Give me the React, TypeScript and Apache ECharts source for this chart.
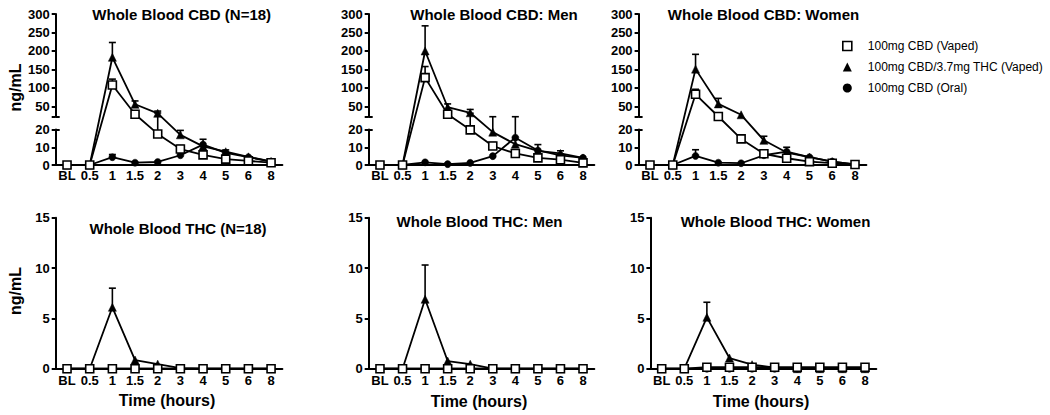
import React, { useEffect, useRef } from 'react';
import * as echarts from 'echarts';

// ---------- data ----------
const categories = ['BL', '0.5', '1', '1.5', '2', '3', '4', '5', '6', '8'];
const seriesNames = ['100mg CBD (Vaped)', '100mg CBD/3.7mg THC (Vaped)', '100mg CBD (Oral)'];
const panelTitles = [
  'Whole Blood CBD (N=18)', 'Whole Blood CBD: Men', 'Whole Blood CBD: Women',
  'Whole Blood THC (N=18)', 'Whole Blood THC: Men', 'Whole Blood THC: Women',
];
const yAxisName = 'ng/mL';
const xAxisName = 'Time (hours)';

// CBD, all participants
const cbdAllVaped = [0, 0, 108, 29, 17.5, 9, 5.7, 3.3, 2.3, 1.3];
const cbdAllVapedErr = [0, 0, 16, 0, 15, 2, 0, 0, 0, 0];
const cbdAllMixVaped = [0, 0, 183, 56, 31.6, 17, 10.5, 7.5, 4.6, 2];
const cbdAllMixVapedErr = [0, 0, 40, 9, 6, 2.5, 0, 1, 0, 0];
const cbdAllOral = [0, 0, 4.4, 1.3, 1.7, 5.5, 11.5, 6.8, 4.4, 1.9];
const cbdAllOralErr = [0, 0, 1.5, 0, 0, 0, 3, 0, 0, 0];
// CBD, men
const cbdMenVaped = [0, 0, 128, 29, 19.8, 10.7, 6.5, 4, 3, 1.2];
const cbdMenVapedErr = [0, 0, 30, 0, 12, 2, 0, 0, 0, 0];
const cbdMenMixVaped = [0, 0, 200, 48, 33, 18.5, 11.7, 8, 6.5, 4];
const cbdMenMixVapedErr = [0, 0, 68, 9, 9, 3.9, 0, 3.5, 1.5, 0];
const cbdMenOral = [0, 0, 1.5, 0.5, 1.2, 5, 15.4, 8.2, 5.4, 4];
const cbdMenOralErr = [0, 0, 0, 0, 0, 0, 7, 0, 0, 0];
// CBD, women
const cbdWomenVaped = [0, 0, 83, 23, 14.7, 6.3, 3.8, 1.9, 1, 0.3];
const cbdWomenVapedErr = [0, 0, 13.5, 0, 0, 0, 0, 0, 0, 0];
const cbdWomenMixVaped = [0, 0, 151, 57, 27.6, 13.9, 7, 4.4, 1.9, 0.4];
const cbdWomenMixVapedErr = [0, 0, 40, 15, 0, 2.3, 0, 0, 0, 0];
const cbdWomenOral = [0, 0, 5.1, 1.3, 1, 5.5, 7.5, 4.4, 1.9, 0.4];
const cbdWomenOralErr = [0, 0, 3.5, 0, 0, 0, 2.5, 0, 0, 0];
// THC, all participants
const thcAllVaped = [0, 0, 0, 0, 0, 0, 0, 0, 0, 0];
const thcAllMixVaped = [0, 0, 6.1, 0.86, 0.45, 0.05, 0, 0, 0, 0];
const thcAllMixVapedErr = [0, 0, 1.9, 0, 0, 0, 0, 0, 0, 0];
const thcAllOral = [0, 0, 0, 0, 0, 0, 0, 0, 0, 0];
// THC, men
const thcMenVaped = [0, 0, 0, 0, 0, 0, 0, 0, 0, 0];
const thcMenMixVaped = [0, 0, 6.9, 0.76, 0.45, 0, 0, 0, 0, 0];
const thcMenMixVapedErr = [0, 0, 3.4, 0, 0, 0, 0, 0, 0, 0];
const thcMenOral = [0, 0, 0, 0, 0, 0, 0, 0, 0, 0];
// THC, women
const thcWomenVaped = [0, 0, 0.15, 0.15, 0.15, 0.15, 0.15, 0.15, 0.15, 0.15];
const thcWomenMixVaped = [0, 0, 5.1, 1.06, 0.4, 0.1, 0, 0, 0, 0];
const thcWomenMixVapedErr = [0, 0, 1.5, 0, 0, 0, 0, 0, 0, 0];
const thcWomenOral = [0, 0, 0, 0, 0, 0, 0, 0, 0, 0];
const zeros = [0, 0, 0, 0, 0, 0, 0, 0, 0, 0];

const lowerTicks = [0, 10, 20];
const upperTicks = [50, 100, 150, 200, 250, 300];

// ---------- broken-axis scale (CBD panels) ----------
const LOW_MAX = 20;      // top of lower segment
const UP_MIN = 22;       // bottom of upper segment
const UP_MAX = 300;
const LOW_PX = 1.775;    // px per unit, lower segment
const UP_PX = 0.37;      // px per unit, upper segment
const UP_K = UP_PX / LOW_PX;
const T50 = 32.96;       // transformed position of 50
const tUp = (v: number) => T50 + (v - 50) * UP_K;
const T_UP_MIN = tUp(UP_MIN);
const T_MAX = tUp(UP_MAX);
const brk = (v: number) => {
  if (v <= LOW_MAX) return v;
  if (v >= UP_MIN) return tUp(v);
  return LOW_MAX + ((v - LOW_MAX) / (UP_MIN - LOW_MAX)) * (T_UP_MIN - LOW_MAX);
};

const FONT = '"Liberation Sans", Arial, Helvetica, sans-serif';

type PanelData = { vals: number[][]; errs: number[][] };
const cbdPanels: PanelData[] = [
  { vals: [cbdAllVaped, cbdAllMixVaped, cbdAllOral], errs: [cbdAllVapedErr, cbdAllMixVapedErr, cbdAllOralErr] },
  { vals: [cbdMenVaped, cbdMenMixVaped, cbdMenOral], errs: [cbdMenVapedErr, cbdMenMixVapedErr, cbdMenOralErr] },
  { vals: [cbdWomenVaped, cbdWomenMixVaped, cbdWomenOral], errs: [cbdWomenVapedErr, cbdWomenMixVapedErr, cbdWomenOralErr] },
];
const thcPanels: PanelData[] = [
  { vals: [thcAllVaped, thcAllMixVaped, thcAllOral], errs: [zeros, thcAllMixVapedErr, zeros] },
  { vals: [thcMenVaped, thcMenMixVaped, thcMenOral], errs: [zeros, thcMenMixVapedErr, zeros] },
  { vals: [thcWomenVaped, thcWomenMixVaped, thcWomenOral], errs: [zeros, thcWomenMixVapedErr, zeros] },
];

// ---------- layout ----------
const topPanels = [
  { left: 55.7, width: 226.7 },
  { left: 368.7, width: 225.6 },
  { left: 638.6, width: 227.8 },
];
const bottomPanels = [
  { left: 55.7, width: 226.7 },
  { left: 368.7, width: 225.6 },
  { left: 650.4, width: 225.9 },
];
const TOP_Y = 14, TOP_H = 151;
const BOT_Y = 217.7, BOT_H = 151;

const symbolDefs = [
  { symbol: 'rect', size: 8, itemStyle: { color: '#fff', borderColor: '#000', borderWidth: 1.6 } },
  { symbol: 'triangle', size: 8, itemStyle: { color: '#000', borderColor: '#000', borderWidth: 0.5 } },
  { symbol: 'circle', size: 7, itemStyle: { color: '#000', borderColor: '#000', borderWidth: 0.5 } },
];

const axisLineStyle = { lineStyle: { color: '#000', width: 2 } };
const tickStyle = { lineStyle: { color: '#000', width: 2 } };
const labelStyle = { color: '#000', fontFamily: FONT, fontWeight: 'bold' as const, fontSize: 13 };

function errRender(params: any, api: any) {
  const x = api.value(0);
  const p0 = api.coord([x, api.value(1)]);
  const p1 = api.coord([x, api.value(2)]);
  const hw = 3.5;
  const st = { stroke: '#000', lineWidth: 1.6 };
  return {
    type: 'group',
    children: [
      { type: 'line', shape: { x1: p0[0], y1: p0[1], x2: p1[0], y2: p1[1] }, style: st },
      { type: 'line', shape: { x1: p1[0] - hw, y1: p1[1], x2: p1[0] + hw, y2: p1[1] }, style: st },
    ],
  };
}

function buildOption() {
  const grid: any[] = [];
  const xAxis: any[] = [];
  const yAxis: any[] = [];
  const series: any[] = [];

  const catAxis = (gi: number, margin: number) => ({
    type: 'category', gridIndex: gi, data: categories, boundaryGap: true,
    axisLine: axisLineStyle,
    axisTick: { alignWithLabel: true, length: 4, ...tickStyle },
    axisLabel: { ...labelStyle, margin, interval: 0 },
    splitLine: { show: false },
  });

  const addSeries = (p: PanelData, xi: number, yi: number, tf: (v: number) => number) => {
    // draw order: oral, mix, vaped (vaped squares on top)
    [2, 1, 0].forEach((k) => {
      const vals = p.vals[k];
      const errs = p.errs[k];
      const errData = vals
        .map((v, i) => (errs[i] > 0 ? [i, tf(v), tf(v + errs[i])] : null))
        .filter((d) => d !== null);
      if (errData.length) {
        series.push({
          type: 'custom', xAxisIndex: xi, yAxisIndex: yi, data: errData,
          encode: { x: 0, y: [1, 2] }, renderItem: errRender, z: 2, silent: true,
        });
      }
      series.push({
        type: 'line', name: seriesNames[k], xAxisIndex: xi, yAxisIndex: yi,
        data: vals.map(tf), symbol: symbolDefs[k].symbol, symbolSize: symbolDefs[k].size,
        showSymbol: true, showAllSymbol: true,
        itemStyle: symbolDefs[k].itemStyle,
        lineStyle: { color: '#000', width: 1.8 },
        emphasis: { disabled: true }, silent: true, z: 3 + (2 - k),
      });
    });
  };

  // top (CBD, broken axis) panels
  topPanels.forEach((lp, pi) => {
    const gi = grid.length;
    grid.push({ left: lp.left, top: TOP_Y, width: lp.width, height: TOP_H });
    xAxis.push(catAxis(gi, 4));
    const yi = yAxis.length;
    yAxis.push({ type: 'value', gridIndex: gi, min: 0, max: T_MAX, show: false });
    addSeries(cbdPanels[pi], xAxis.length - 1, yi, brk);

    // lower segment axis
    const pxPerT = TOP_H / T_MAX;
    const lowH = LOW_MAX * pxPerT;
    const gLow = grid.length;
    grid.push({ left: lp.left, top: TOP_Y + TOP_H - lowH, width: lp.width, height: lowH });
    xAxis.push({ type: 'value', gridIndex: gLow, show: false });
    yAxis.push({
      type: 'value', gridIndex: gLow, position: 'left', min: 0, max: LOW_MAX,
      axisLine: { show: true, ...axisLineStyle },
      axisTick: { show: true, length: 4, customValues: lowerTicks, ...tickStyle },
      axisLabel: { ...labelStyle, margin: 6, customValues: lowerTicks },
      splitLine: { show: false },
    });
    yAxis.push({
      type: 'value', gridIndex: gLow, position: 'left', min: 0, max: LOW_MAX,
      axisLine: { show: false },
      axisTick: { show: true, inside: true, length: 4, customValues: [LOW_MAX], ...tickStyle },
      axisLabel: { show: false }, splitLine: { show: false },
    });

    // upper segment axis
    const upH = (T_MAX - T_UP_MIN) * pxPerT;
    const gUp = grid.length;
    grid.push({ left: lp.left, top: TOP_Y, width: lp.width, height: upH });
    xAxis.push({ type: 'value', gridIndex: gUp, show: false });
    yAxis.push({
      type: 'value', gridIndex: gUp, position: 'left', min: UP_MIN, max: UP_MAX,
      axisLine: { show: true, ...axisLineStyle },
      axisTick: { show: true, length: 4, customValues: [UP_MIN, ...upperTicks], ...tickStyle },
      axisLabel: { ...labelStyle, margin: 6, customValues: upperTicks },
      splitLine: { show: false },
    });
    yAxis.push({
      type: 'value', gridIndex: gUp, position: 'left', min: UP_MIN, max: UP_MAX,
      axisLine: { show: false },
      axisTick: { show: true, inside: true, length: 4, customValues: [UP_MIN], ...tickStyle },
      axisLabel: { show: false }, splitLine: { show: false },
    });
  });

  // bottom (THC) panels
  bottomPanels.forEach((lp, pi) => {
    const gi = grid.length;
    grid.push({ left: lp.left, top: BOT_Y, width: lp.width, height: BOT_H });
    xAxis.push(catAxis(gi, 5));
    const yi = yAxis.length;
    yAxis.push({
      type: 'value', gridIndex: gi, min: 0, max: 15, interval: 5,
      axisLine: { show: true, ...axisLineStyle },
      axisTick: { show: true, length: 4, ...tickStyle },
      axisLabel: { ...labelStyle, margin: 6 },
      splitLine: { show: false },
    });
    addSeries(thcPanels[pi], xAxis.length - 1, yi, (v) => v);
  });

  const titlePos = [
    [181.7, 14], [494, 14], [763.5, 14],
    [178, 228], [479.5, 221], [775.5, 221.7],
  ];
  const graphic: any[] = [];
  panelTitles.forEach((t, i) => {
    graphic.push({
      type: 'text', x: titlePos[i][0], y: titlePos[i][1], silent: true,
      style: {
        text: t, fill: '#000', font: `bold 15px ${FONT}`,
        align: 'center', verticalAlign: 'middle', textAlign: 'center', textVerticalAlign: 'middle',
      },
    });
  });
  [[15, 87.5], [15, 291]].forEach((p) => {
    graphic.push({
      type: 'text', x: p[0], y: p[1], rotation: Math.PI / 2, silent: true,
      style: {
        text: yAxisName, fill: '#000', font: `bold 16px ${FONT}`,
        align: 'center', verticalAlign: 'middle', textAlign: 'center', textVerticalAlign: 'middle',
      },
    });
  });
  [[167, 400], [479, 401.5], [761, 401]].forEach((p) => {
    graphic.push({
      type: 'text', x: p[0], y: p[1], silent: true,
      style: {
        text: xAxisName, fill: '#000', font: `bold 16px ${FONT}`,
        align: 'center', verticalAlign: 'middle', textAlign: 'center', textVerticalAlign: 'middle',
      },
    });
  });

  return {
    animation: false,
    backgroundColor: '#fff',
    grid, xAxis, yAxis, series, graphic,
    legend: {
      orient: 'vertical', left: 837, top: 34, itemWidth: 9, itemHeight: 9, itemGap: 7,
      selectedMode: false,
      textStyle: { color: '#000', fontFamily: FONT, fontSize: 12, lineHeight: 14, padding: [0, 0, 0, 11] },
      data: [
        { name: seriesNames[0], icon: 'rect', itemStyle: { color: '#fff', borderColor: '#000', borderWidth: 1.6 } },
        { name: seriesNames[1], icon: 'triangle', itemStyle: { color: '#000', borderColor: '#000', borderWidth: 0 } },
        { name: seriesNames[2], icon: 'circle', itemStyle: { color: '#000', borderColor: '#000', borderWidth: 0 } },
      ],
    },
  };
}

export default function App() {
  const ref = useRef<HTMLDivElement>(null);
  useEffect(() => {
    if (!ref.current) return;
    const chart = echarts.init(ref.current, null, { renderer: 'svg' });
    chart.setOption(buildOption() as any);
    return () => chart.dispose();
  }, []);
  return (
    <div
      ref={ref}
      style={{ position: 'absolute', left: 0, top: 0, width: 1050, height: 415, background: '#fff' }}
    />
  );
}
